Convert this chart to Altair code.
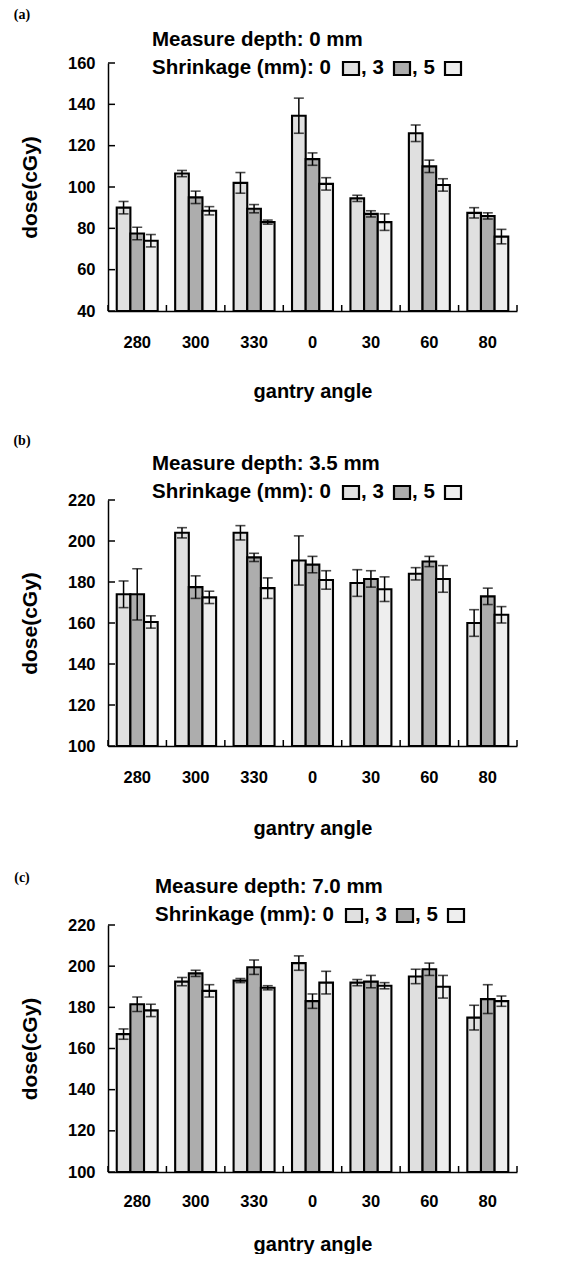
import altair as alt
import pandas as pd

# ---------------- data ----------------
angles = ["280", "300", "330", "0", "30", "60", "80"]
shrinkages = ["0", "3", "5"]

# (a) depth 0 mm
a_dose_0 = [90, 106.5, 102, 134.5, 94.5, 126, 87.5]
a_dose_3 = [77.5, 95, 89.5, 113.5, 87, 110, 86]
a_dose_5 = [74, 88.5, 83, 101.5, 83, 101, 76]
a_err_0 = [3, 1.5, 5, 8.5, 1.5, 4, 2.5]
a_err_3 = [3, 3, 2, 3, 1.5, 3, 1.5]
a_err_5 = [3, 2, 1, 3, 4, 3, 3.5]

# (b) depth 3.5 mm
b_dose_0 = [174, 204, 204, 190.5, 179.5, 184, 160]
b_dose_3 = [174, 177.5, 192, 188.5, 181.5, 190, 173]
b_dose_5 = [160.5, 172.5, 177, 181, 176.5, 181.5, 164]
b_err_0 = [6.5, 2.5, 3.5, 12, 6.5, 3, 6.5]
b_err_3 = [12.5, 5.5, 2, 4, 4, 2.5, 4]
b_err_5 = [3, 3, 5, 4.5, 6, 6.5, 4]

# (c) depth 7.0 mm
c_dose_0 = [167, 192.5, 193, 201.5, 192, 195, 175]
c_dose_3 = [181.5, 196.5, 199.5, 183, 192.5, 198.5, 184]
c_dose_5 = [178.5, 188, 189.5, 192, 190.5, 190, 183]
c_err_0 = [2.5, 2, 1, 3.5, 1.5, 3.5, 6]
c_err_3 = [3.5, 1.5, 3.5, 3.5, 3, 3, 7]
c_err_5 = [3, 3, 1, 5.5, 1.5, 5.5, 2.5]

a_ticks = [40, 60, 80, 100, 120, 140, 160]
bc_ticks = [100, 120, 140, 160, 180, 200, 220]

# ---------------- style ----------------
SANS = "Liberation Sans, Arial, Helvetica, sans-serif"
SERIF = "Liberation Serif, Times New Roman, serif"
COLORS = ["#e0e0e0", "#adadad", "#eeeeee"]
W = 409


def make_df(ds, es):
    rows = []
    for s, dl, el in zip(shrinkages, ds, es):
        for a, d, e in zip(angles, dl, el):
            rows.append({"angle": a, "shrink": s, "dose": d, "lo": d - e, "hi": d + e})
    return pd.DataFrame(rows)


def panel(df, tag, depth, ticks, H, tag_y, title_y, lab_pad, gantry_y, dx=0):
    ymin, ymax = ticks[0], ticks[-1]
    yscale = alt.Scale(domain=[ymin, ymax], nice=False, zero=False)
    xscale = alt.Scale(paddingInner=0, paddingOuter=0)
    xoff = alt.XOffset("shrink:N", sort=shrinkages,
                       scale=alt.Scale(paddingInner=0, paddingOuter=0.64))

    base = alt.Chart(df)

    bars = base.mark_bar(stroke="black", strokeWidth=2.1).encode(
        x=alt.X("angle:N", sort=angles, scale=xscale,
                axis=alt.Axis(title="gantry angle", orient="bottom", ticks=False,
                              domainColor="black", domainWidth=1.5, labelAngle=0,
                              labelFont=SANS, labelFontSize=16.5, labelFontWeight="bold",
                              labelColor="black", labelPadding=lab_pad,
                              titleFont=SANS, titleFontSize=20, titleFontWeight="bold",
                              titleColor="black", titleX=W / 2, titleY=gantry_y,
                              titleAlign="center", titleBaseline="middle")),
        xOffset=xoff,
        y=alt.Y("dose:Q", scale=yscale,
                axis=alt.Axis(title="dose(cGy)", orient="left", values=ticks, ticks=False,
                              grid=False, domainColor="black", domainWidth=1.5,
                              labelFont=SANS, labelFontSize=16.5, labelFontWeight="bold",
                              labelColor="black", labelPadding=13,
                              titleFont=SANS, titleFontSize=21, titleFontWeight="bold",
                              titleColor="black", titleX=-78, titleY=H / 2,
                              titleAngle=270, titleAlign="center", titleBaseline="middle")),
        y2=alt.datum(ymin),
        fill=alt.Fill("shrink:N", scale=alt.Scale(domain=shrinkages, range=COLORS), legend=None),
    )

    err = base.mark_rule(color="black", strokeWidth=1.5).encode(
        x=alt.X("angle:N", sort=angles, scale=xscale, axis=None),
        xOffset=xoff,
        y=alt.Y("lo:Q", scale=yscale, axis=None),
        y2="hi:Q",
    )
    cap_lo = base.mark_tick(color="black", size=10, thickness=1.6, orient="horizontal").encode(
        x=alt.X("angle:N", sort=angles, scale=xscale, axis=None), xOffset=xoff,
        y=alt.Y("lo:Q", scale=yscale, axis=None))
    cap_hi = base.mark_tick(color="black", size=10, thickness=1.6, orient="horizontal").encode(
        x=alt.X("angle:N", sort=angles, scale=xscale, axis=None), xOffset=xoff,
        y=alt.Y("hi:Q", scale=yscale, axis=None))

    # inward tick marks
    ytick_marks = alt.Chart(pd.DataFrame({"v": ticks})).mark_rule(
        color="black", strokeWidth=1.5).encode(
        y=alt.Y("v:Q", scale=yscale, axis=None), x=alt.value(0), x2=alt.value(7))
    adf = pd.DataFrame({"angle": angles})
    xtick_marks = alt.Chart(adf).mark_rule(color="black", strokeWidth=1.5).encode(
        x=alt.X("angle:N", sort=angles, scale=xscale, axis=None, bandPosition=0),
        y=alt.value(H - 6), y2=alt.value(H))
    xtick_end = alt.Chart(adf).transform_filter(
        alt.datum.angle == angles[-1]).mark_rule(color="black", strokeWidth=1.5).encode(
        x=alt.X("angle:N", sort=angles, scale=xscale, axis=None, bandPosition=1),
        y=alt.value(H - 6), y2=alt.value(H))

    def txt(t, x, y, font=SANS, size=20.5, align="left"):
        return alt.Chart(pd.DataFrame({"t": [t]})).mark_text(
            font=font, fontSize=size, fontWeight="bold", align=align, baseline="middle",
            color="black").encode(text="t:N", x=alt.value(x), y=alt.value(y))

    def swatch(x, y, color):
        return alt.Chart(pd.DataFrame({"t": [0]})).mark_rect(
            fill=color, stroke="black", strokeWidth=2.2).encode(
            x=alt.value(x), x2=alt.value(x + 16), y=alt.value(y - 6), y2=alt.value(y + 7))

    ly = title_y + 28
    layers = [
        bars, err, cap_lo, cap_hi, ytick_marks, xtick_marks, xtick_end,
        txt(tag, -86, tag_y, font=SERIF, size=14, align="center"),
        txt(f"Measure depth: {depth} mm", 44 + dx, title_y),
        txt("Shrinkage (mm): 0", 44 + dx, ly),
        swatch(235 + dx, ly, COLORS[0]),
        txt(", 3", 253 + dx, ly),
        swatch(286 + dx, ly, COLORS[1]),
        txt(", 5", 304 + dx, ly),
        swatch(337 + dx, ly, COLORS[2]),
    ]
    return alt.layer(*layers).resolve_axis(x="independent", y="independent").properties(
        width=W, height=H)


pa = panel(make_df([a_dose_0, a_dose_3, a_dose_5], [a_err_0, a_err_3, a_err_5]),
           "(a)", "0", a_ticks, 248, -48, -23, 23, 80)
pb = panel(make_df([b_dose_0, b_dose_3, b_dose_5], [b_err_0, b_err_3, b_err_5]),
           "(b)", "3.5", bc_ticks, 246, -59, -36, 23, 82)
pc = panel(make_df([c_dose_0, c_dose_3, c_dose_5], [c_err_0, c_err_3, c_err_5]),
           "(c)", "7.0", bc_ticks, 247, -47, -38, 21, 72, dx=3)

chart = alt.vconcat(pa, pb, pc, spacing=33).properties(
    padding={"left": 5, "top": 0, "right": 0, "bottom": 0},
    background="white",
).configure_view(stroke=None)

chart.save("out.html", embed_options={"renderer": "svg", "actions": False})
